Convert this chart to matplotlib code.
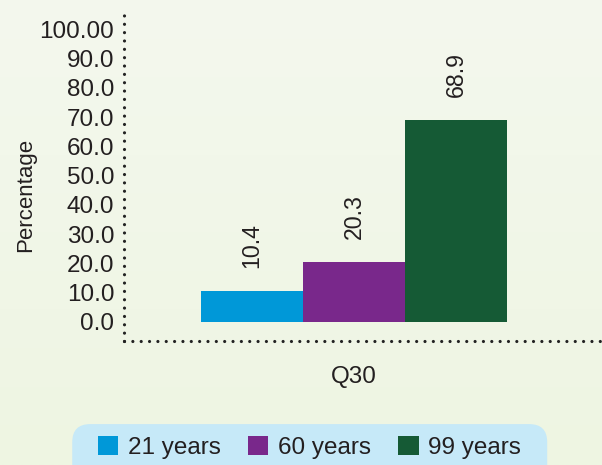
import matplotlib.pyplot as plt
from matplotlib.lines import Line2D
from matplotlib.patches import Patch, FancyBboxPatch
import numpy as np

plt.rcParams['font.family'] = ['Liberation Sans', 'DejaVu Sans']
plt.rcParams['lines.scale_dashes'] = False

# Data
categories = ["Q30"]
series_names = ["21 years", "60 years", "99 years"]
series_values = [[10.4], [20.3], [68.9]]
series_colors = ["#0098d8", "#79288b", "#155a35"]
y_ticks = [0, 10, 20, 30, 40, 50, 60, 70, 80, 90, 100]
y_tick_labels = ["0.0", "10.0", "20.0", "30.0", "40.0", "50.0",
                 "60.0", "70.0", "80.0", "90.0", "100.00"]

text_col = "#231f20"
bg = "#f1f6e8"

fig = plt.figure(figsize=(6.02, 4.65), dpi=100, facecolor=bg)
ax = fig.add_axes([0.206, 0.267, 0.794, 0.711])
ax.set_facecolor("none")

# soft vertical gradient behind everything
grad = np.linspace(0, 1, 256).reshape(-1, 1)
bg_ax = fig.add_axes([0, 0, 1, 1], zorder=-10)
bg_ax.imshow(grad, aspect="auto", extent=[0, 1, 0, 1],
             cmap=plt.matplotlib.colors.LinearSegmentedColormap.from_list(
                 "bg", ["#f4f8ee", "#eef5e2"]))
bg_ax.axis("off")

x = np.arange(len(categories))
width = 1.0
for i, (name, vals, col) in enumerate(zip(series_names, series_values, series_colors)):
    pos = x + (i - 1) * width
    bars = ax.bar(pos, vals, width=width, color=col, label=name, linewidth=0)
    for b, v in zip(bars, vals):
        ax.annotate(f"{v}", (b.get_x() + b.get_width() / 2, v),
                    xytext=(0, 17), textcoords="offset points",
                    rotation=90, ha="center", va="bottom",
                    fontsize=16.7, color=text_col)

ax.set_xlim(-2.255, 2.43)
ax.set_ylim(-6.5, 106.5)
ax.set_yticks(y_ticks)
ax.set_yticklabels(y_tick_labels)
ax.set_xticks(x)
ax.set_xticklabels(categories)
ax.tick_params(axis="both", length=0, labelsize=17.5, colors=text_col)
ax.tick_params(axis="y", pad=7)
ax.tick_params(axis="x", pad=18)
ax.set_ylabel("Percentage", fontsize=16, color=text_col)
ax.yaxis.set_label_coords(-0.184, 0.441)

# dotted axis lines
for s in ax.spines.values():
    s.set_visible(False)
dot = dict(color="#222222", linewidth=2.3, linestyle=(0, (0.01, 6.0)),
           dash_capstyle="round", clip_on=False)
ax.add_line(Line2D([0, 0], [0, 1], transform=ax.transAxes, **dot))
ax.add_line(Line2D([0, 1], [0, 0], transform=ax.transAxes, **dot))

# rounded light-blue strip behind the legend, running off the bottom edge
box = FancyBboxPatch((0.12, -0.05), 0.789, 0.138,
                     boxstyle="round,pad=0,rounding_size=0.03",
                     transform=fig.transFigure, facecolor="#c6e9f8",
                     edgecolor="none", mutation_aspect=602 / 465, zorder=0)
fig.patches.append(box)

handles = [Patch(facecolor=c, edgecolor="none") for c in series_colors]
leg = fig.legend(handles, series_names, loc="center",
                 bbox_to_anchor=(0.514, 0.038), ncol=3, fontsize=17.5,
                 frameon=False, handlelength=0.85,
                 handleheight=0.85, handletextpad=0.4, columnspacing=1.1,
                 borderpad=0, borderaxespad=0, labelcolor=text_col)

fig.savefig("out.png", dpi=100, facecolor=bg)
